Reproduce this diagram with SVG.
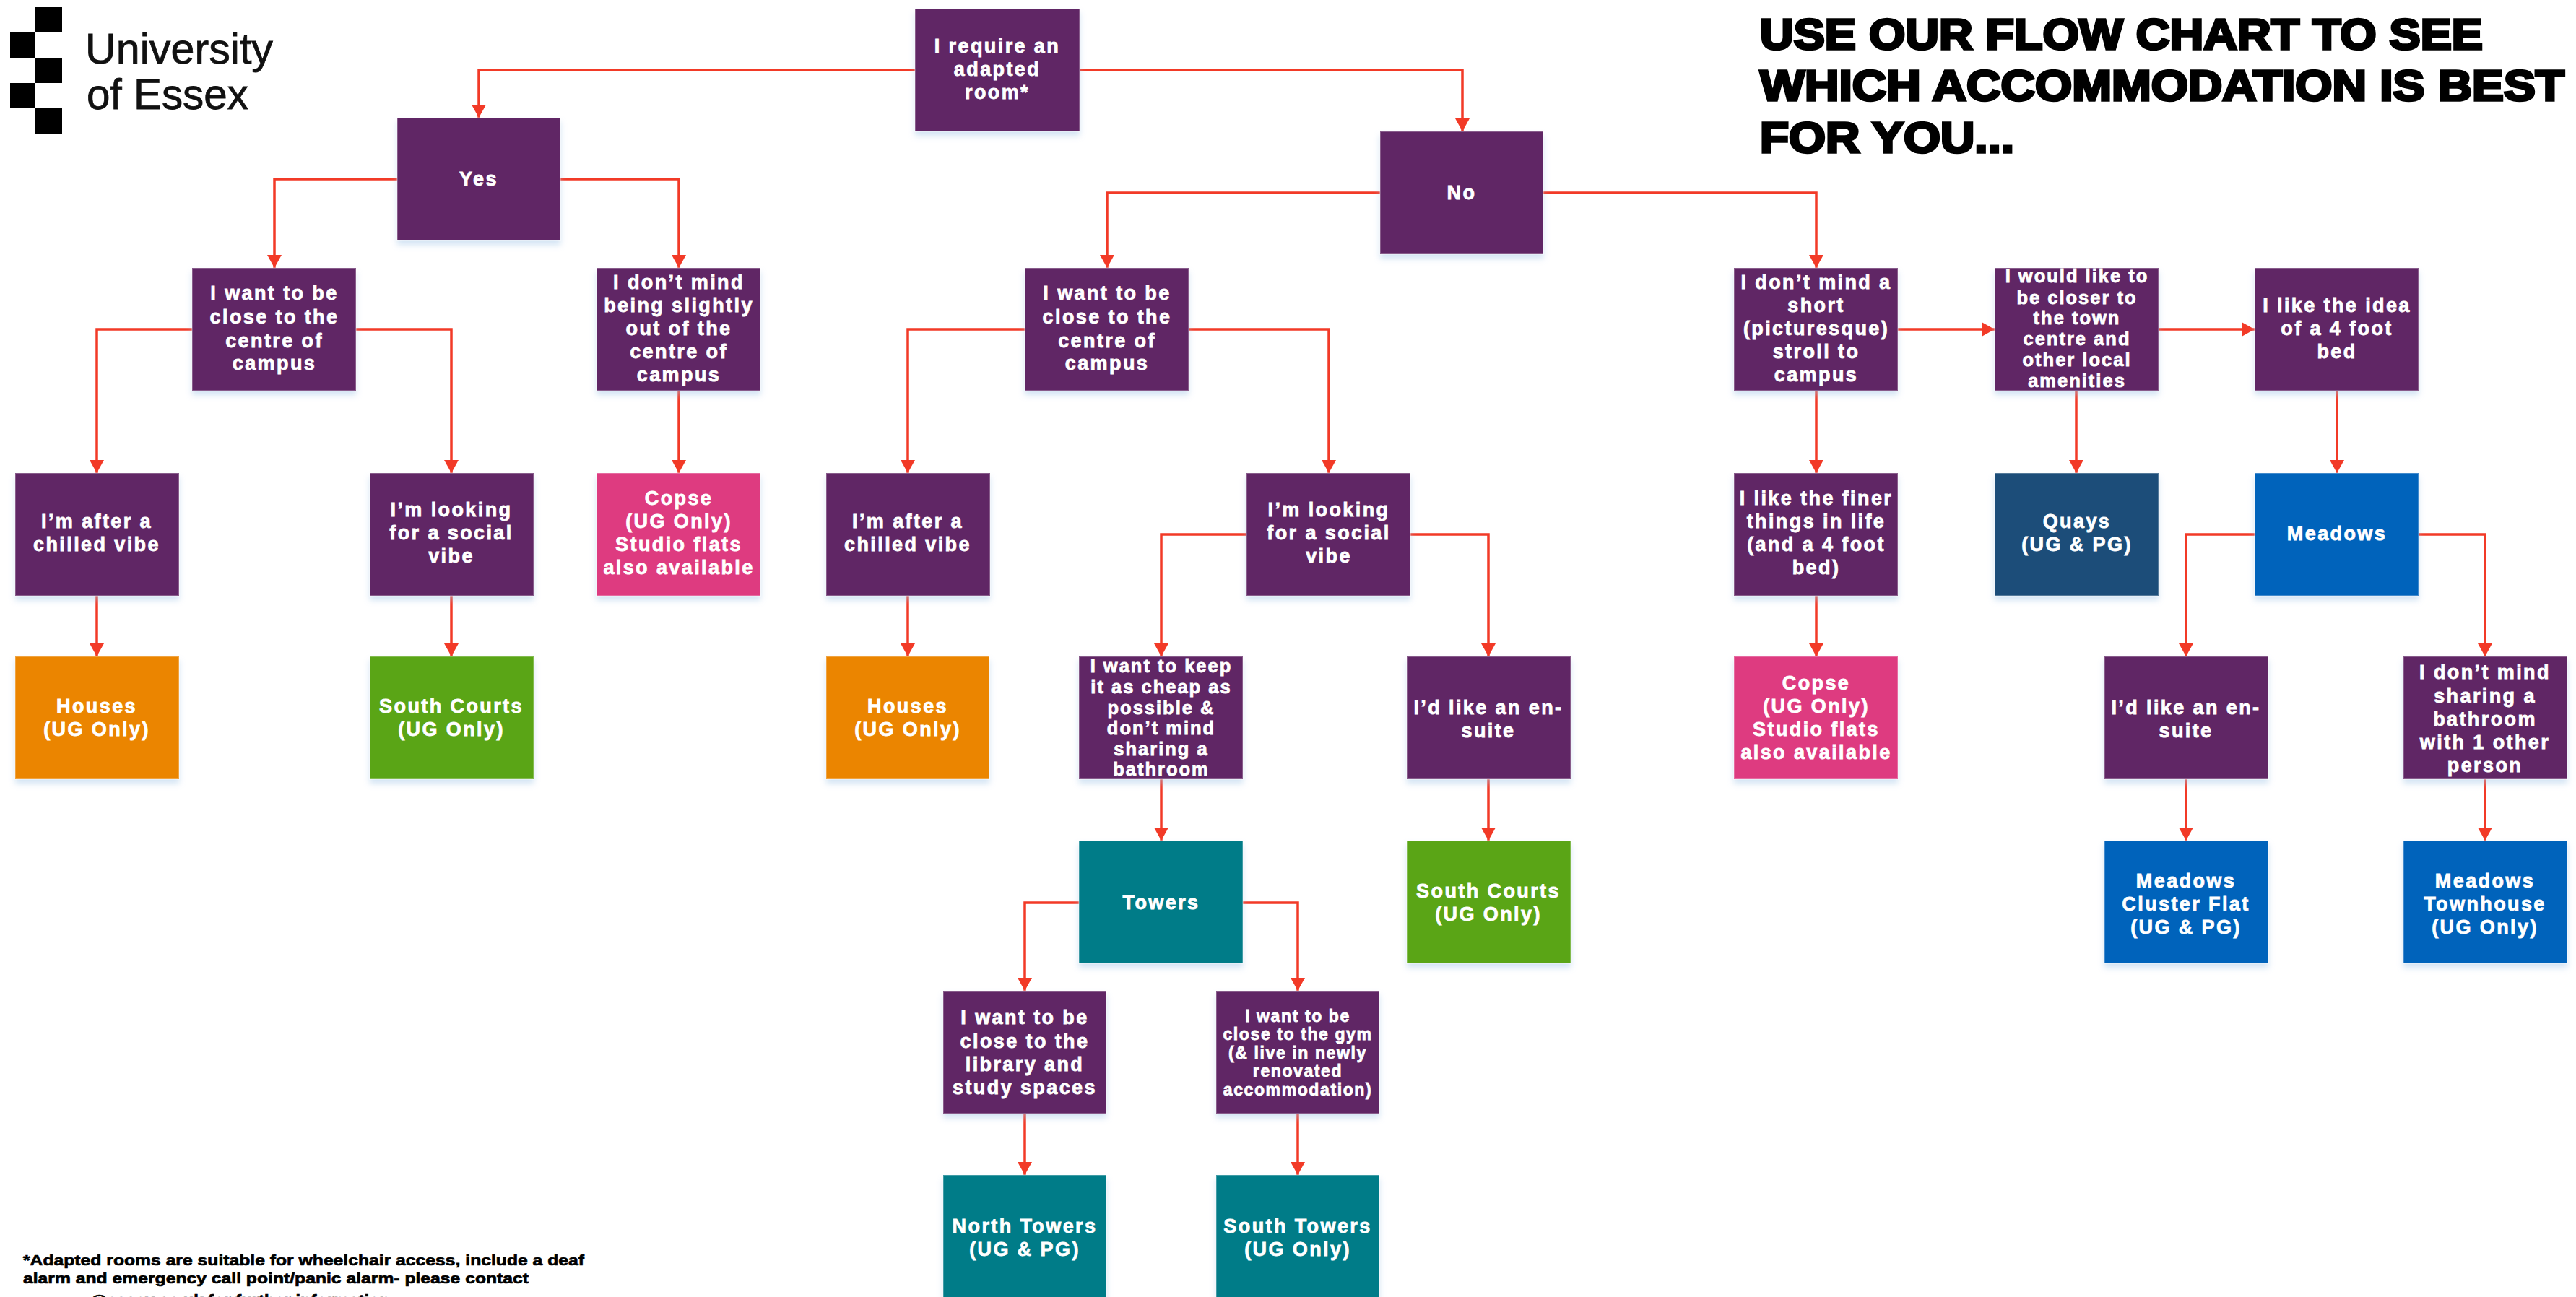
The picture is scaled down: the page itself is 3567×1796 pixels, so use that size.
<svg xmlns="http://www.w3.org/2000/svg" width="3567" height="1796" viewBox="0 0 3567 1796">
<style>
text{font-family:"Liberation Sans",Arial,sans-serif;font-weight:700}
.n text{fill:#fff;font-size:27px;letter-spacing:2.4px;text-anchor:middle;stroke:#fff;stroke-width:.8px}
.n text.m{font-size:25.5px;letter-spacing:2px}
.n text.s{font-size:23px;letter-spacing:1.6px}
.n rect{stroke:#fff;stroke-opacity:.25;stroke-width:2;filter:url(#s)}
.p{fill:#612665}.o{fill:#EB8500}.g{fill:#5AA516}.t{fill:#017B88}.k{fill:#DE3A80}.q{fill:#1D4E79}.b{fill:#0563BB}
.c path{fill:none;stroke:#F23A27;stroke-width:3.5;marker-end:url(#a)}
.h text{fill:#000;font-size:59px;stroke:#000;stroke-width:3.5px}
.f text{fill:#000;font-size:21px;stroke:#000;stroke-width:.7px}
.l text{font-size:60px;font-weight:400;fill:#111;stroke:#111;stroke-width:.8px}
</style>
<defs>
<marker id="a" markerUnits="userSpaceOnUse" markerWidth="20" markerHeight="20" refX="18" refY="10" orient="auto" viewBox="0 0 20 20"><path d="M0 0L18 10L0 20Z" style="fill:#F23A27;stroke:none"/></marker>
<filter id="s" x="-5%" y="-5%" width="110%" height="115%"><feDropShadow dx="0" dy="6" stdDeviation="4" flood-color="#9DC3E6" flood-opacity=".45"/></filter>
</defs>
<rect width="3567" height="1796" fill="#fff"/>
<g id="logo" class="l"><path d="M49 10h37v35H49zM14 45h35v35H14zM49 80h37v35H49zM14 115h35v35H14zM49 150h37v35H49z" fill="#000"/>
<text x="118" y="88" textLength="260" lengthAdjust="spacingAndGlyphs">University</text>
<text x="120" y="151" textLength="224" lengthAdjust="spacingAndGlyphs">of Essex</text></g>
<g id="title" class="h">
<text x="2437" y="68" textLength="1001" lengthAdjust="spacingAndGlyphs">USE OUR FLOW CHART TO SEE</text>
<text x="2437" y="139" textLength="1114" lengthAdjust="spacingAndGlyphs">WHICH ACCOMMODATION IS BEST</text>
<text x="2437" y="211" textLength="352" lengthAdjust="spacingAndGlyphs">FOR YOU...</text></g>
<g id="connectors" class="c">
<path d="M1267 97H663V163"/><path d="M1495 97H2025V182"/>
<path d="M550 248H380V371"/><path d="M776 248H940V371"/>
<path d="M1911 267H1533V371"/><path d="M2136 267H2515V371"/>
<path d="M266 456H134V655"/><path d="M493 456H625V655"/>
<path d="M940 541V655"/>
<path d="M1419 456H1257V655"/><path d="M1646 456H1840V655"/>
<path d="M2515 541V655"/><path d="M2628 456H2762"/><path d="M2988 456H3122"/><path d="M2875 541V655"/><path d="M3236 541V655"/>
<path d="M134 825V909"/><path d="M625 825V909"/><path d="M1257 825V909"/>
<path d="M1726 740H1608V909"/><path d="M1953 740H2061V909"/>
<path d="M2515 825V909"/>
<path d="M3122 740H3027V909"/><path d="M3349 740H3441V909"/>
<path d="M1608 1079V1164"/><path d="M2061 1079V1164"/><path d="M3027 1079V1164"/><path d="M3441 1079V1164"/>
<path d="M1494 1250H1419V1372"/><path d="M1721 1250H1797V1372"/>
<path d="M1419 1542V1627"/><path d="M1797 1542V1627"/>
</g>
<g class="n">
<g id="n-adapted"><rect class="p" x="1267" y="12" width="228" height="170"/><text x="1381" y="73">I require an</text><text x="1381" y="105">adapted</text><text x="1381" y="137">room*</text></g>
<g id="n-yes"><rect class="p" x="550" y="163" width="226" height="170"/><text x="663" y="257">Yes</text></g>
<g id="n-no"><rect class="p" x="1911" y="182" width="226" height="170"/><text x="2024" y="276">No</text></g>
<g id="n-y-close"><rect class="p" x="266" y="371" width="227" height="170"/><text x="380" y="415">I want to be</text><text x="380" y="448">close to the</text><text x="380" y="481">centre of</text><text x="380" y="512">campus</text></g>
<g id="n-y-mind"><rect class="p" x="826" y="371" width="227" height="170"/><text x="940" y="400">I don’t mind</text><text x="940" y="432">being slightly</text><text x="940" y="464">out of the</text><text x="940" y="496">centre of</text><text x="940" y="528">campus</text></g>
<g id="n-n-close"><rect class="p" x="1419" y="371" width="227" height="170"/><text x="1533" y="415">I want to be</text><text x="1533" y="448">close to the</text><text x="1533" y="481">centre of</text><text x="1533" y="512">campus</text></g>
<g id="n-stroll"><rect class="p" x="2401" y="371" width="227" height="170"/><text x="2515" y="400">I don’t mind a</text><text x="2515" y="432">short</text><text x="2515" y="464">(picturesque)</text><text x="2515" y="496">stroll to</text><text x="2515" y="528">campus</text></g>
<g id="n-town"><rect class="p" x="2762" y="371" width="227" height="170"/><text class="m" x="2876" y="391">I would like to</text><text class="m" x="2876" y="421">be closer to</text><text class="m" x="2876" y="449">the town</text><text class="m" x="2876" y="478">centre and</text><text class="m" x="2876" y="507">other local</text><text class="m" x="2876" y="536">amenities</text></g>
<g id="n-bed"><rect class="p" x="3122" y="371" width="227" height="170"/><text x="3236" y="432">I like the idea</text><text x="3236" y="464">of a 4 foot</text><text x="3236" y="496">bed</text></g>
<g id="n-chill1"><rect class="p" x="21" y="655" width="227" height="170"/><text x="134" y="731">I’m after a</text><text x="134" y="763">chilled vibe</text></g>
<g id="n-social1"><rect class="p" x="512" y="655" width="227" height="170"/><text x="625" y="715">I’m looking</text><text x="625" y="747">for a social</text><text x="625" y="779">vibe</text></g>
<g id="n-copse1"><rect class="k" x="826" y="655" width="227" height="170"/><text x="940" y="699">Copse</text><text x="940" y="731">(UG Only)</text><text x="940" y="763">Studio flats</text><text x="940" y="795">also available</text></g>
<g id="n-chill2"><rect class="p" x="1144" y="655" width="227" height="170"/><text x="1257" y="731">I’m after a</text><text x="1257" y="763">chilled vibe</text></g>
<g id="n-social2"><rect class="p" x="1726" y="655" width="227" height="170"/><text x="1840" y="715">I’m looking</text><text x="1840" y="747">for a social</text><text x="1840" y="779">vibe</text></g>
<g id="n-finer"><rect class="p" x="2401" y="655" width="227" height="170"/><text x="2515" y="699">I like the finer</text><text x="2515" y="731">things in life</text><text x="2515" y="763">(and a 4 foot</text><text x="2515" y="795">bed)</text></g>
<g id="n-quays"><rect class="q" x="2762" y="655" width="227" height="170"/><text x="2876" y="731">Quays</text><text x="2876" y="763">(UG &amp; PG)</text></g>
<g id="n-meadows"><rect class="b" x="3122" y="655" width="227" height="170"/><text x="3236" y="748">Meadows</text></g>
<g id="n-houses1"><rect class="o" x="21" y="909" width="227" height="170"/><text x="134" y="987">Houses</text><text x="134" y="1019">(UG Only)</text></g>
<g id="n-south1"><rect class="g" x="512" y="909" width="227" height="170"/><text x="625" y="987">South Courts</text><text x="625" y="1019">(UG Only)</text></g>
<g id="n-houses2"><rect class="o" x="1144" y="909" width="226" height="170"/><text x="1257" y="987">Houses</text><text x="1257" y="1019">(UG Only)</text></g>
<g id="n-cheap"><rect class="p" x="1494" y="909" width="227" height="170"/><text class="m" x="1608" y="931">I want to keep</text><text class="m" x="1608" y="960">it as cheap as</text><text class="m" x="1608" y="989">possible &amp;</text><text class="m" x="1608" y="1017">don’t mind</text><text class="m" x="1608" y="1046">sharing a</text><text class="m" x="1608" y="1074">bathroom</text></g>
<g id="n-ensuite1"><rect class="p" x="1948" y="909" width="227" height="170"/><text x="2061" y="989">I’d like an en-</text><text x="2061" y="1021">suite</text></g>
<g id="n-copse2"><rect class="k" x="2401" y="909" width="227" height="170"/><text x="2515" y="955">Copse</text><text x="2515" y="987">(UG Only)</text><text x="2515" y="1019">Studio flats</text><text x="2515" y="1051">also available</text></g>
<g id="n-ensuite2"><rect class="p" x="2914" y="909" width="227" height="170"/><text x="3027" y="989">I’d like an en-</text><text x="3027" y="1021">suite</text></g>
<g id="n-share"><rect class="p" x="3328" y="909" width="227" height="170"/><text x="3441" y="940">I don’t mind</text><text x="3441" y="973">sharing a</text><text x="3441" y="1005">bathroom</text><text x="3441" y="1037">with 1 other</text><text x="3441" y="1069">person</text></g>
<g id="n-towers"><rect class="t" x="1494" y="1164" width="227" height="170"/><text x="1608" y="1259">Towers</text></g>
<g id="n-south2"><rect class="g" x="1948" y="1164" width="227" height="170"/><text x="2061" y="1243">South Courts</text><text x="2061" y="1275">(UG Only)</text></g>
<g id="n-cluster"><rect class="b" x="2914" y="1164" width="227" height="170"/><text x="3027" y="1229">Meadows</text><text x="3027" y="1261">Cluster Flat</text><text x="3027" y="1293">(UG &amp; PG)</text></g>
<g id="n-town2"><rect class="b" x="3328" y="1164" width="227" height="170"/><text x="3441" y="1229">Meadows</text><text x="3441" y="1261">Townhouse</text><text x="3441" y="1293">(UG Only)</text></g>
<g id="n-lib"><rect class="p" x="1306" y="1372" width="226" height="170"/><text x="1419" y="1418">I want to be</text><text x="1419" y="1451">close to the</text><text x="1419" y="1483">library and</text><text x="1419" y="1515">study spaces</text></g>
<g id="n-gym"><rect class="p" x="1684" y="1372" width="226" height="170"/><text class="s" x="1797" y="1415">I want to be</text><text class="s" x="1797" y="1440">close to the gym</text><text class="s" x="1797" y="1466">(&amp; live in newly</text><text class="s" x="1797" y="1491">renovated</text><text class="s" x="1797" y="1517">accommodation)</text></g>
<g id="n-north"><rect class="t" x="1306" y="1627" width="226" height="172"/><text x="1419" y="1707">North Towers</text><text x="1419" y="1739">(UG &amp; PG)</text></g>
<g id="n-southt"><rect class="t" x="1684" y="1627" width="226" height="172"/><text x="1797" y="1707">South Towers</text><text x="1797" y="1739">(UG Only)</text></g>
</g>
<g id="footnote" class="f">
<text x="32" y="1752" textLength="777" lengthAdjust="spacingAndGlyphs">*Adapted rooms are suitable for wheelchair access, include a deaf</text>
<text x="32" y="1777" textLength="700" lengthAdjust="spacingAndGlyphs">alarm and emergency call point/panic alarm- please contact</text>
<text x="125" y="1807" textLength="415" lengthAdjust="spacingAndGlyphs">@essex.ac.uk for further information</text>
</g>
</svg>
